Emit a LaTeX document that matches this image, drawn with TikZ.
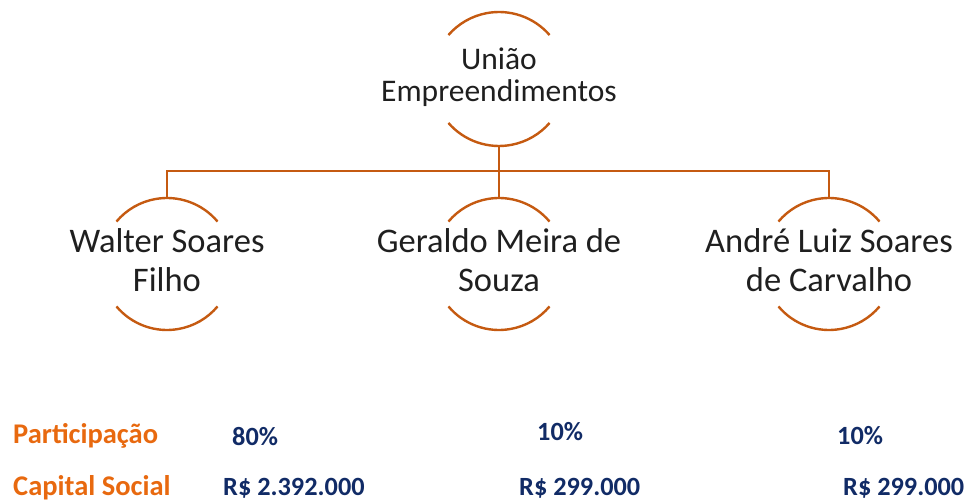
\documentclass[tikz,border=0pt]{standalone}
\usepackage{fontspec}
\setmainfont{Carlito}
\definecolor{arcorange}{HTML}{C55A11}
\definecolor{labelorange}{HTML}{E8690F}
\definecolor{navytext}{HTML}{112B66}
\begin{document}
\begin{tikzpicture}[x=1pt,y=1pt,
  bubbletop/.style={circle, minimum size=134pt, inner sep=0pt},
  bubble/.style={circle, minimum size=132pt, inner sep=0pt},
  arcline/.style={draw=arcorange, line width=2.4pt},
  conn/.style={draw=arcorange, line width=2.4pt},
  toptext/.style={font=\fontsize{31.5}{37}\selectfont, text=black!88, anchor=base, inner sep=0pt},
  nametext/.style={font=\fontsize{34.5}{40}\selectfont, text=black!88, anchor=base, inner sep=0pt},
  rowlabel/.style={font=\fontsize{28.5}{34}\selectfont\bfseries, text=labelorange, anchor=base west, inner sep=0pt},
  value/.style={font=\fontsize{26.3}{32}\selectfont\bfseries, text=navytext, anchor=base west, inner sep=0pt}
]
\useasboundingbox (0,0) rectangle (968,501);
% circles (invisible nodes)
\node[bubbletop] (top) at (499,422) {};
\node[bubble] (walter) at (167,237) {};
\node[bubble] (geraldo) at (499,237) {};
\node[bubble] (andre) at (829,237) {};
% arcs
\draw[arcline] ([shift={(41:67pt)}]top.center) arc[start angle=41,end angle=139,radius=67pt];
\draw[arcline] ([shift={(221:67pt)}]top.center) arc[start angle=221,end angle=319,radius=67pt];
\foreach \n in {walter,geraldo,andre}{
  \draw[arcline] ([shift={(40:66pt)}]\n.center) arc[start angle=40,end angle=140,radius=66pt];
  \draw[arcline] ([shift={(220:66pt)}]\n.center) arc[start angle=220,end angle=320,radius=66pt];
}
% connectors
\coordinate (bus) at (499,330);
\draw[conn] (top.south) -- (bus);
\draw[conn] (walter.north) -- (walter.north |- bus) -- (andre.north |- bus) -- (andre.north);
\draw[conn] (geraldo.north) -- (geraldo.north |- bus);
% names
\node[toptext] (topA) at (499,431) {União};
\node[toptext] (topB) at (499,399) {Empreendimentos};
\node[nametext] (walA) at (167,248) {Walter Soares};
\node[nametext] (walB) at (167,209) {Filho};
\node[nametext] (gerA) at (499,248) {Geraldo Meira de};
\node[nametext] (gerB) at (499,209) {Souza};
\node[nametext] (andA) at (829,248) {André Luiz Soares};
\node[nametext] (andB) at (829,209) {de Carvalho};
% bottom table
\node[rowlabel] (part) at (13,58) {Participação};
\node[rowlabel] (cap) at (13,6) {Capital Social};
\node[value] (p1) at (232,56) {80\%};
\node[value] (p2) at (537,61) {10\%};
\node[value] (p3) at (837,57) {10\%};
\node[value] (c1) at (223,6) {R\$ 2.392.000};
\node[value] (c2) at (519,6) {R\$ 299.000};
\node[value] (c3) at (843,6) {R\$ 299.000};
\end{tikzpicture}
\end{document}
